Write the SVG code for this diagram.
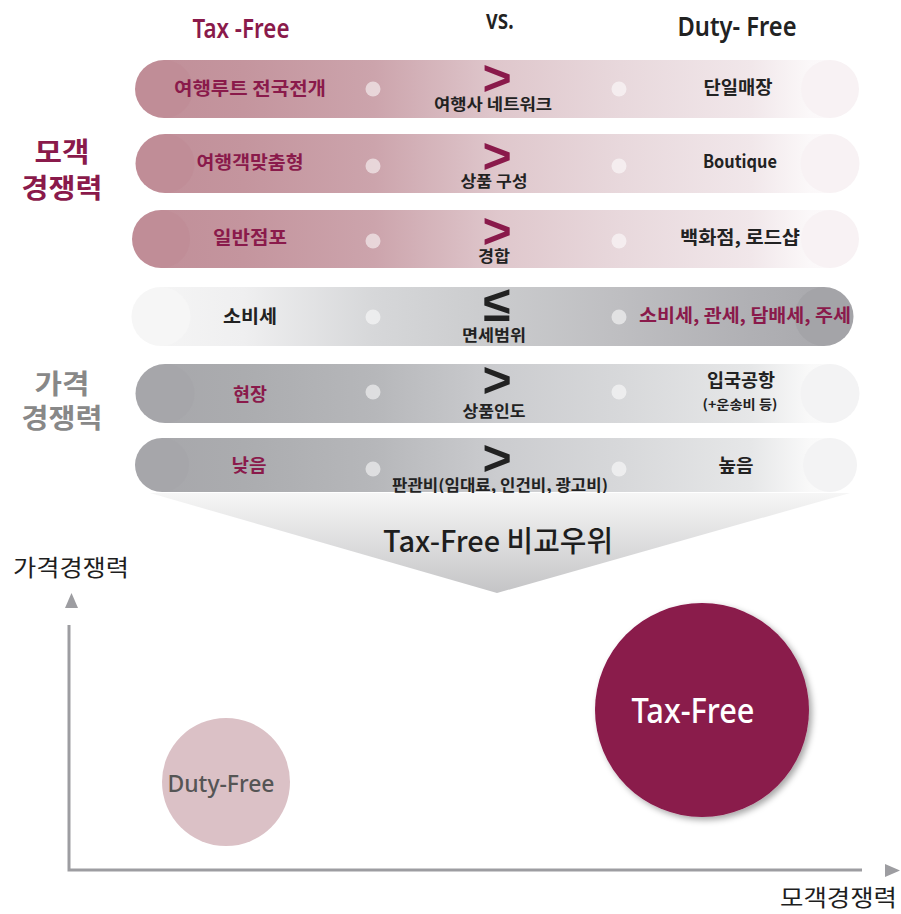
<svg xmlns="http://www.w3.org/2000/svg" width="901" height="914" viewBox="0 0 901 914">
<defs>
<style>
.kr{font-family:"Noto Sans CJK KR","Noto Sans",sans-serif}
.b{font-weight:700}
.m{fill:#8a1a4b}
.d{fill:#222}
.g{fill:#888}
.lbl{font-size:18px;font-weight:700;text-anchor:middle}
.mid{font-size:15.5px;font-weight:700;text-anchor:middle;fill:#222}
.sym{font-family:"Liberation Sans",Arial,sans-serif;font-weight:700;font-size:50px;text-anchor:middle}
.hdr{font-family:"Noto Sans","Liberation Sans",sans-serif;font-size:27px;font-weight:600;text-anchor:middle}
.side{font-size:27px;font-weight:700;text-anchor:middle}
.dot{fill:#fff;fill-opacity:0.55}
.axis{stroke:#9d9da1;stroke-width:3;fill:none}
</style>
<linearGradient id="pink" gradientUnits="userSpaceOnUse" x1="135" y1="0" x2="860" y2="0">
<stop offset="0" stop-color="#c08e98"/>
<stop offset="0.15" stop-color="#c4959e"/>
<stop offset="0.33" stop-color="#cca4ac"/>
<stop offset="0.5" stop-color="#dfc7cc"/>
<stop offset="0.67" stop-color="#e8d8dc"/>
<stop offset="0.85" stop-color="#f1e7ea"/>
<stop offset="0.93" stop-color="#fbf8f9"/>
<stop offset="1" stop-color="#fdfbfc"/>
</linearGradient>
<linearGradient id="grayR" gradientUnits="userSpaceOnUse" x1="135" y1="0" x2="860" y2="0">
<stop offset="0" stop-color="#f6f6f6"/>
<stop offset="0.15" stop-color="#efeff0"/>
<stop offset="0.33" stop-color="#d6d7d9"/>
<stop offset="0.5" stop-color="#cacbcd"/>
<stop offset="0.67" stop-color="#bebec1"/>
<stop offset="0.85" stop-color="#b0b0b4"/>
<stop offset="1" stop-color="#a6a6aa"/>
</linearGradient>
<linearGradient id="grayL" gradientUnits="userSpaceOnUse" x1="135" y1="0" x2="860" y2="0">
<stop offset="0" stop-color="#a6a6aa"/>
<stop offset="0.15" stop-color="#abacaf"/>
<stop offset="0.33" stop-color="#b6b7ba"/>
<stop offset="0.5" stop-color="#cbcccf"/>
<stop offset="0.67" stop-color="#d7d8da"/>
<stop offset="0.85" stop-color="#e6e7e8"/>
<stop offset="0.93" stop-color="#f9f9f9"/>
<stop offset="1" stop-color="#fdfdfd"/>
</linearGradient>
<linearGradient id="funnel" x1="0" y1="0" x2="0" y2="1">
<stop offset="0" stop-color="#f6f6f6"/>
<stop offset="1" stop-color="#c4c4c6"/>
</linearGradient>
<filter id="shadow" x="-20%" y="-20%" width="150%" height="150%">
<feDropShadow dx="3" dy="3" stdDeviation="3" flood-color="#000" flood-opacity="0.35"/>
</filter>
</defs>
<rect width="901" height="914" fill="#fff"/>

<g id="headers">
<text class="hdr m" x="241" y="38" textLength="97" lengthAdjust="spacingAndGlyphs">Tax -Free</text>
<text class="hdr d" x="500" y="29" font-size="20" textLength="28" lengthAdjust="spacingAndGlyphs">vs.</text>
<text class="hdr d" x="737" y="36" textLength="119" lengthAdjust="spacingAndGlyphs">Duty- Free</text>
</g>

<g id="side-labels" class="kr">
<text class="side m" x="62" y="162" textLength="55" lengthAdjust="spacingAndGlyphs">모객</text>
<text class="side m" x="62" y="198" textLength="81" lengthAdjust="spacingAndGlyphs">경쟁력</text>
<text class="side g" x="62" y="394" textLength="55" lengthAdjust="spacingAndGlyphs">가격</text>
<text class="side g" x="62" y="428" textLength="81" lengthAdjust="spacingAndGlyphs">경쟁력</text>
</g>

<g id="row1">
<rect x="164" y="60" width="666" height="58" fill="url(#pink)"/>
<circle cx="164" cy="89" r="29" fill="#c08d97"/>
<circle cx="830" cy="89" r="29" fill="#f8f2f4"/>
<circle class="dot" cx="373" cy="89" r="7.5"/>
<circle class="dot" cx="619" cy="89" r="7.5"/>
<text class="kr lbl m" x="250" y="95" textLength="152" lengthAdjust="spacingAndGlyphs">여행루트 전국전개</text>
<text class="sym m" x="497" y="95">&gt;</text>
<text class="kr mid" x="493" y="110" textLength="118" lengthAdjust="spacingAndGlyphs">여행사 네트워크</text>
<text class="kr lbl d" x="738" y="94" textLength="69" lengthAdjust="spacingAndGlyphs">단일매장</text>
</g>

<g id="row2">
<rect x="165" y="134" width="665" height="59" fill="url(#pink)"/>
<circle cx="165" cy="163.5" r="29.5" fill="#c08d97"/>
<circle cx="830" cy="163.5" r="29.5" fill="#f8f2f4"/>
<circle class="dot" cx="373" cy="166" r="7.5"/>
<circle class="dot" cx="619" cy="166" r="7.5"/>
<text class="kr lbl m" x="250" y="169" textLength="107" lengthAdjust="spacingAndGlyphs">여행객맞춤형</text>
<text class="sym m" x="497" y="173">&gt;</text>
<text class="kr mid" x="494" y="187" textLength="67" lengthAdjust="spacingAndGlyphs">상품 구성</text>
<text class="kr lbl d" x="740" y="168" textLength="74" lengthAdjust="spacingAndGlyphs">Boutique</text>
</g>

<g id="row3">
<rect x="161" y="210" width="669" height="58" fill="url(#pink)"/>
<circle cx="161" cy="239" r="29" fill="#c08d97"/>
<circle cx="830" cy="239" r="29" fill="#f8f2f4"/>
<circle class="dot" cx="373" cy="241" r="7.5"/>
<circle class="dot" cx="619" cy="241" r="7.5"/>
<text class="kr lbl m" x="250" y="244" textLength="74" lengthAdjust="spacingAndGlyphs">일반점포</text>
<text class="sym m" x="497" y="248">&gt;</text>
<text class="kr mid" x="494" y="262" textLength="32" lengthAdjust="spacingAndGlyphs">경합</text>
<text class="kr lbl d" x="740" y="244" textLength="120" lengthAdjust="spacingAndGlyphs">백화점, 로드샵</text>
</g>

<g id="row4">
<rect x="161" y="287" width="663" height="59" fill="url(#grayR)"/>
<circle cx="161" cy="316.5" r="29.5" fill="#f6f6f6"/>
<circle cx="824" cy="316.5" r="29.5" fill="#a4a4a8"/>
<circle class="dot" cx="373" cy="317" r="7.5"/>
<circle class="dot" cx="619" cy="317" r="7.5"/>
<text class="kr lbl d" x="250" y="323" textLength="54" lengthAdjust="spacingAndGlyphs">소비세</text>
<text class="sym d" x="497" y="321" font-size="44">≤</text>
<text class="kr mid" x="494" y="341" textLength="64" lengthAdjust="spacingAndGlyphs">면세범위</text>
<text class="kr lbl m" x="745" y="322" textLength="212" lengthAdjust="spacingAndGlyphs">소비세, 관세, 담배세, 주세</text>
</g>

<g id="row5">
<rect x="165" y="364" width="665" height="59" fill="url(#grayL)"/>
<circle cx="165" cy="393.5" r="29.5" fill="#a6a6aa"/>
<circle cx="830" cy="393.5" r="29.5" fill="#f3f3f4"/>
<circle class="dot" cx="373" cy="392" r="7.5"/>
<circle class="dot" cx="619" cy="392" r="7.5"/>
<text class="kr lbl m" x="250" y="401" textLength="34" lengthAdjust="spacingAndGlyphs">현장</text>
<text class="sym d" x="497" y="397">&gt;</text>
<text class="kr mid" x="494" y="417" textLength="63" lengthAdjust="spacingAndGlyphs">상품인도</text>
<text class="kr lbl d" x="741" y="387" textLength="68" lengthAdjust="spacingAndGlyphs">입국공항</text>
<text class="kr d b" x="740" y="409" font-size="13" text-anchor="middle" textLength="75" lengthAdjust="spacingAndGlyphs">(+운송비 등)</text>
</g>

<g id="row6">
<rect x="162" y="438" width="668" height="54" fill="url(#grayL)"/>
<circle cx="162" cy="465" r="27" fill="#a6a6aa"/>
<circle cx="830" cy="465" r="27" fill="#f3f3f4"/>
<circle class="dot" cx="373" cy="469" r="7.5"/>
<circle class="dot" cx="619" cy="469" r="7.5"/>
<text class="kr lbl m" x="249" y="472" textLength="35" lengthAdjust="spacingAndGlyphs">낮음</text>
<text class="sym d" x="497" y="475">&gt;</text>
<text class="kr mid" x="500" y="491" textLength="216" lengthAdjust="spacingAndGlyphs">판관비(임대료, 인건비, 광고비)</text>
<text class="kr lbl d" x="736" y="472" textLength="35" lengthAdjust="spacingAndGlyphs">높음</text>
</g>

<g id="funnel">
<polygon points="150,493 850,493 497,593" fill="url(#funnel)"/>
<text class="kr" x="498" y="552" font-size="29" font-weight="500" fill="#1e1e1e" text-anchor="middle" textLength="230" lengthAdjust="spacingAndGlyphs">Tax-Free 비교우위</text>
</g>

<g id="connectors">
<polyline class="axis" points="69,625 69,870 862,870"/>
<polygon points="71.5,593 65,608 78,608" fill="#9d9da1"/>
<polygon points="900,870.5 885,864 885,877" fill="#9d9da1"/>
</g>

<g id="axis-labels" class="kr">
<text x="13" y="576" font-size="23" fill="#1e1e1e" textLength="116" lengthAdjust="spacingAndGlyphs">가격경쟁력</text>
<text x="780" y="906" font-size="23" fill="#1e1e1e" textLength="117" lengthAdjust="spacingAndGlyphs">모객경쟁력</text>
</g>

<g id="duty-free">
<circle cx="226" cy="782" r="64" fill="#dbc1c6"/>
<text x="221" y="792" font-family="'Noto Sans','Open Sans',sans-serif" font-size="23" font-weight="500" fill="#555" text-anchor="middle" textLength="107" lengthAdjust="spacingAndGlyphs">Duty-Free</text>
</g>

<g id="tax-free">
<circle cx="702" cy="710" r="107" fill="#8a1a4b" filter="url(#shadow)"/>
<text x="693" y="723" font-family="'Noto Sans','Open Sans',sans-serif" font-size="34" font-weight="500" fill="#fff" text-anchor="middle" textLength="123" lengthAdjust="spacingAndGlyphs">Tax-Free</text>
</g>
</svg>
